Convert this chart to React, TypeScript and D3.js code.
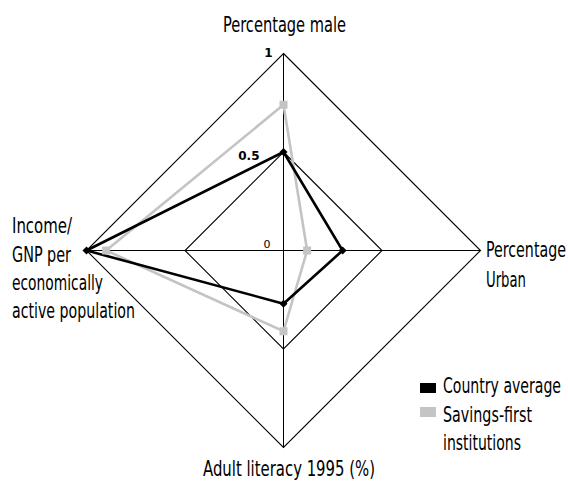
import React from 'react';
import * as d3 from 'd3';

const axes = ['Percentage male', 'Percentage Urban', 'Adult literacy 1995 (%)', 'Income/GNP per economically active population'];
const countryAverage = [0.5, 0.3, 0.27, 1.0];
const savingsFirst = [0.74, 0.12, 0.41, 0.9];
const ringLevels = [0.5, 1];
const tickLabels = [
  { value: 1, text: '1', bold: true },
  { value: 0.5, text: '0.5', bold: true },
  { value: 0, text: '0', bold: false },
];
const legendItems = [
  { label: ['Country average'], color: '#000000' },
  { label: ['Savings-first', 'institutions'], color: '#c4c4c4' },
];

const W = 568;
const H = 485;
const cx = 283.5;
const cy = 250.5;
const R = 197;
const GREY = '#c4c4c4';

// condensed label text, squeezed to the widths seen in the reference
const Label = ({ x, y, w, anchor = 'start', children }: any) => (
  <text
    x={x}
    y={y}
    textAnchor={anchor}
    textLength={w}
    lengthAdjust="spacingAndGlyphs"
    fontFamily="DejaVu Sans Condensed, DejaVu Sans, sans-serif"
    fontStretch="condensed"
    fontSize={22}
    fill="#000"
  >
    {children}
  </text>
);

const App = () => {
  const r = d3.scaleLinear().domain([0, 1]).range([0, R]);
  const angle = (i: number) => (i * 2 * Math.PI) / axes.length;
  const pt = (i: number, v: number): [number, number] => {
    const a = angle(i) - Math.PI / 2;
    return [cx + r(v) * Math.cos(a), cy + r(v) * Math.sin(a)];
  };

  const radial = d3
    .lineRadial<number>()
    .angle((_, i) => angle(i))
    .radius((d) => r(d))
    .curve(d3.curveLinearClosed);

  const ring = (lvl: number) => radial(axes.map(() => lvl)) as string;
  const tickX: Record<string, number> = { '1': -11, '0.5': -24, '0': -13 };
  const tickDy: Record<string, number> = { '1': 3, '0.5': 8, '0': -3 };

  return (
    <svg width={W} height={H} style={{ position: 'absolute', left: 0, top: 0, background: '#fff' }}>
      <g transform={`translate(${cx},${cy})`}>
        {ringLevels.map((l) => (
          <path key={l} d={ring(l)} fill="none" stroke="#000" strokeWidth={1.1} />
        ))}
      </g>
      {axes.map((_, i) => {
        const [x, y] = pt(i, 1);
        return <line key={i} x1={cx} y1={cy} x2={x} y2={y} stroke="#000" strokeWidth={1} />;
      })}

      <g transform={`translate(${cx},${cy})`}>
        <path d={radial(savingsFirst) as string} fill="none" stroke={GREY} strokeWidth={2.6} />
        <path d={radial(countryAverage) as string} fill="none" stroke="#000" strokeWidth={2.6} />
      </g>
      {savingsFirst.map((v, i) => {
        const [x, y] = pt(i, v);
        return <rect key={'s' + i} x={x - 4} y={y - 4} width={8} height={8} fill={GREY} />;
      })}
      {countryAverage.map((v, i) => {
        const [x, y] = pt(i, v);
        return <path key={'c' + i} d={`M${x},${y - 4}L${x + 4},${y}L${x},${y + 4}L${x - 4},${y}Z`} fill="#000" />;
      })}

      {tickLabels.map((t) => {
        const [, y] = pt(0, t.value);
        return (
          <text
            key={t.text}
            x={cx + tickX[t.text]}
            y={y + tickDy[t.text]}
            textAnchor="end"
            fontFamily="DejaVu Sans, sans-serif"
            fontSize={t.bold ? 12 : 11}
            fontWeight={t.bold ? 'bold' : 'normal'}
            fill="#000"
          >
            {t.text}
          </text>
        );
      })}

      <Label x={223} y={31.5} w={123}>Percentage male</Label>
      <Label x={486} y={257} w={80}>Percentage</Label>
      <Label x={486} y={287} w={40}>Urban</Label>
      <Label x={203} y={476} w={172}>Adult literacy 1995 (%)</Label>
      <Label x={12} y={233} w={60}>Income/</Label>
      <Label x={12} y={261.5} w={59}>GNP per</Label>
      <Label x={12} y={290} w={91}>economically</Label>
      <Label x={12} y={318} w={123}>active population</Label>

      {legendItems.map((item, i) => {
        const y0 = 393 + i * 28.5;
        return (
          <g key={i}>
            <rect x={420} y={i === 0 ? 383 : 407} width={16} height={10} fill={item.color} />
            {item.label.map((s, j) => (
              <Label key={s} x={443} y={y0 + j * 28} w={s === 'Country average' ? 118 : s === 'Savings-first' ? 89 : 78}>
                {s}
              </Label>
            ))}
          </g>
        );
      })}
    </svg>
  );
};

export default App;
